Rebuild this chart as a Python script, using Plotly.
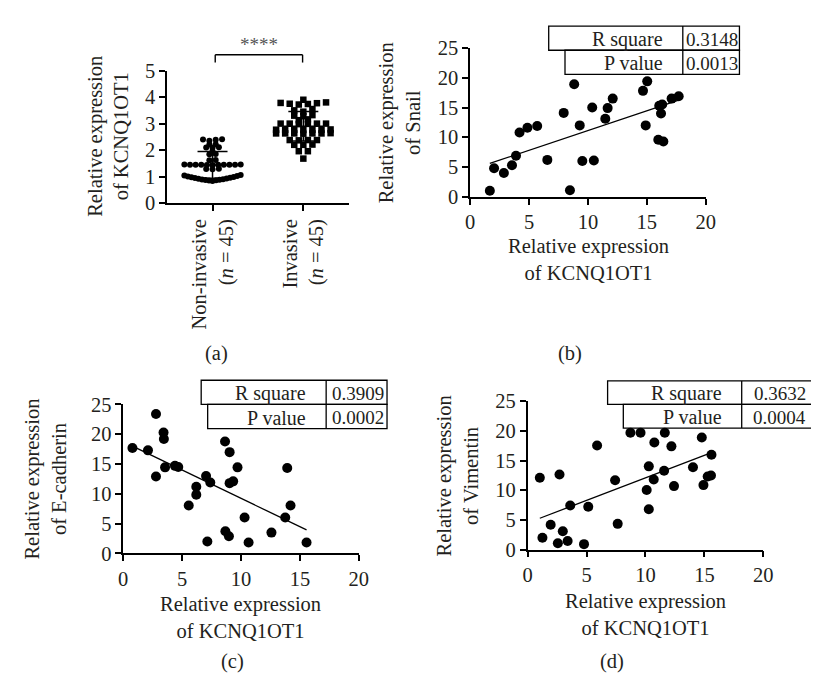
import numpy as np
import plotly.graph_objects as go

W, H = 819, 682
FONT = "Liberation Serif"
TXT = "#231f20"
FS = 20.5
TFS = 19

# ---------------- data ----------------
# Panel (a)
group_labels = ["Non-invasive<br>(<i>n</i> = 45)", "Invasive<br>(<i>n</i> = 45)"]
non_invasive = [2.41, 2.40, 2.39, 2.35, 2.21, 2.22, 2.10, 2.09, 2.11, 1.96, 1.84, 1.85,
                1.62, 1.63, 1.45, 1.45, 1.44, 1.46, 1.45, 1.45, 1.44, 1.46, 1.45, 1.45,
                1.45, 1.29, 1.30, 1.28, 0.84, 0.85, 0.86, 0.87, 0.88, 0.89, 0.90, 0.92,
                0.93, 0.95, 0.96, 0.98, 0.99, 1.01, 1.02, 1.04, 1.06]
invasive = [3.90, 3.80, 3.78, 3.77, 3.75, 3.74, 3.72, 3.55, 3.50, 3.45, 3.32, 3.30, 3.28,
            3.16, 3.13, 3.00, 3.00, 2.99, 3.00, 2.98, 3.00, 2.77, 2.77, 2.76, 2.77, 2.78,
            2.77, 2.77, 2.63, 2.63, 2.62, 2.63, 2.64, 2.63, 2.63, 2.38, 2.38, 2.37, 2.38,
            2.20, 2.20, 2.21, 1.96, 1.96, 1.68]

# Panel (b): Snail vs KCNQ1OT1
b_x = [1.67, 2.03, 2.86, 3.55, 3.89, 4.19, 4.86, 5.69, 6.55, 7.94, 8.47, 8.83, 9.30, 9.52,
       10.36, 10.50, 11.47, 11.67, 12.10, 14.67, 15.03, 14.90, 16.05, 16.30, 16.20, 15.97,
       16.40, 17.10, 17.70]
b_y = [1.0, 4.8, 4.0, 5.3, 6.9, 10.8, 11.6, 11.9, 6.2, 14.1, 1.1, 18.9, 12.0, 6.0,
       15.0, 6.1, 13.1, 14.9, 16.5, 17.8, 19.4, 12.0, 15.3, 15.5, 14.0, 9.6,
       9.3, 16.5, 16.9]

# Panel (c): E-cadherin vs KCNQ1OT1
c_x = [0.78, 2.10, 2.78, 2.78, 3.42, 3.45, 3.55, 4.39, 4.67, 5.56, 6.20, 6.20, 7.03, 7.14,
       7.39, 8.64, 8.67, 8.97, 9.03, 9.03, 9.33, 9.70, 10.30, 10.64, 12.58, 13.75, 13.92,
       14.20, 15.56]
c_y = [17.7, 17.3, 23.4, 12.9, 20.3, 19.2, 14.45, 14.7, 14.5, 8.05, 11.2, 9.85, 13.0, 2.0,
       11.9, 18.8, 3.73, 2.9, 17.0, 11.8, 12.1, 14.45, 6.05, 1.83, 3.5, 6.05, 14.33,
       8.05, 1.83]

# Panel (d): Vimentin vs KCNQ1OT1
d_x = [1.03, 1.25, 1.95, 2.56, 2.70, 2.98, 3.39, 3.61, 4.78, 5.14, 5.89, 7.42, 7.64, 8.72,
       9.58, 10.10, 10.28, 10.28, 10.70, 10.75, 11.58, 11.64, 12.20, 12.42, 14.03, 14.78,
       14.92, 15.28, 15.56, 15.60]
d_y = [12.1, 2.0, 4.2, 1.08, 12.66, 3.1, 1.46, 7.44, 0.92, 7.23, 17.55, 11.68, 4.34, 19.68,
       19.68, 10.05, 14.03, 6.79, 11.8, 18.04, 13.3, 19.68, 17.4, 10.7, 13.87, 18.9,
       10.87, 12.33, 12.5, 16.0]

stat_labels = ["R square", "P value"]
b_stats = ["0.3148", "0.0013"]
c_stats = ["0.3909", "0.0002"]
d_stats = ["0.3632", "0.0004"]
y_titles = ["Relative expression<br>of KCNQ1OT1", "Relative expression<br>of Snail",
            "Relative expression<br>of E-cadherin", "Relative expression<br>of Vimentin"]
x_title = "Relative expression<br>of KCNQ1OT1"
panel_labels = ["(a)", "(b)", "(c)", "(d)"]
signif = "****"

# ---------------- helpers ----------------
def PX(x):
    return x / W

def PY(y):
    return 1 - y / H

def swarm(vals, step_max, span, gap=0.07):
    v = np.asarray(vals, dtype=float)
    order = np.argsort(v, kind="stable")
    sv = v[order]
    bands, cur = [], [0]
    for i in range(1, len(sv)):
        if sv[i] - sv[i - 1] > gap:
            bands.append(cur)
            cur = [i]
        else:
            cur.append(i)
    bands.append(cur)
    offs = np.zeros(len(sv))
    for b in bands:
        n = len(b)
        step = step_max if n < 2 else min(step_max, span / (n - 1))
        pos = sorted([(k - (n - 1) / 2) * step for k in range(n)], key=lambda p: (abs(p), p))
        for idx, p in zip(b, pos):
            offs[idx] = p
    out = np.zeros(len(sv))
    out[order] = offs
    return out

fig = go.Figure()

# axis pixel geometry: (x_left, x_right, y_bottom, y_top)
geo = {
    "a": (157, 342, 190.3, 53.3),
    "b": (465.7, 705.7, 183.7, 30.0),
    "c": (112.3, 352.3, 552.3, 398.3),
    "d": (524.3, 764.3, 548.3, 395.0),
}
axis_ids = {"a": ("x", "y"), "b": ("x2", "y2"), "c": ("x3", "y3"), "d": ("x4", "y4")}

common = dict(showline=True, linecolor="black", linewidth=1.5, ticks="outside",
              ticklen=6, tickwidth=1.5, tickcolor="black", showgrid=False, zeroline=False,
              tickfont=dict(family=FONT, size=FS, color=TXT), fixedrange=True)

layout_axes = {}
for k, (xl, xr, yb, yt) in geo.items():
    xa, ya = axis_ids[k]
    xname = "xaxis" + xa[1:]
    yname = "yaxis" + ya[1:]
    layout_axes[xname] = dict(domain=[PX(xl), PX(xr)], anchor=ya, **common)
    layout_axes[yname] = dict(domain=[PY(yb), PY(yt)], anchor=xa, **common)

layout_axes["xaxis"].update(range=[-0.5, 1.5], tickvals=[0, 1], ticktext=group_labels,
                            tickangle=-90)
layout_axes["yaxis"].update(range=[0, 5], dtick=1, tick0=0)
for k in ["b", "c", "d"]:
    xa, ya = axis_ids[k]
    layout_axes["xaxis" + xa[1:]].update(range=[0, 20], dtick=5, tick0=0)
    layout_axes["yaxis" + ya[1:]].update(range=[0, 25], dtick=5, tick0=0)

# ---------------- panel (a) ----------------
off_n = swarm(non_invasive, 0.07, 0.62)
off_i = swarm(invasive, 0.1, 0.64)
fig.add_trace(go.Scatter(x=0 + off_n, y=non_invasive, mode="markers",
                         marker=dict(symbol="circle", size=6, color="black"),
                         xaxis="x", yaxis="y", cliponaxis=False, showlegend=False))
fig.add_trace(go.Scatter(x=1 + off_i, y=invasive, mode="markers",
                         marker=dict(symbol="square", size=6.5, color="black"),
                         xaxis="x", yaxis="y", cliponaxis=False, showlegend=False))
for gi, vals in enumerate([non_invasive, invasive]):
    m = float(np.mean(vals))
    s = float(np.std(vals, ddof=1))
    fig.add_trace(go.Scatter(x=[gi - 0.22, gi + 0.22], y=[m, m], mode="lines",
                             line=dict(color="black", width=1.5), xaxis="x", yaxis="y",
                             showlegend=False))
    fig.add_trace(go.Scatter(x=[gi], y=[m], mode="markers", marker=dict(size=1, color="black"),
                             error_y=dict(type="data", array=[s], symmetric=True,
                                          color="black", thickness=1.5, width=15),
                             xaxis="x", yaxis="y", showlegend=False))

# ---------------- scatter panels ----------------
for k, xs, ys in [("b", b_x, b_y), ("c", c_x, c_y), ("d", d_x, d_y)]:
    xa, ya = axis_ids[k]
    fig.add_trace(go.Scatter(x=xs, y=ys, mode="markers",
                             marker=dict(symbol="circle", size=10, color="black"),
                             xaxis=xa, yaxis=ya, cliponaxis=False, showlegend=False))
    slope, icpt = np.polyfit(xs, ys, 1)
    lx = np.array([min(xs), max(xs)])
    fig.add_trace(go.Scatter(x=lx, y=slope * lx + icpt, mode="lines",
                             line=dict(color="black", width=1.3),
                             xaxis=xa, yaxis=ya, showlegend=False))

shapes = []
annotations = []

def line_shape(x0, y0, x1, y1, w=1.4):
    shapes.append(dict(type="line", xref="paper", yref="paper", x0=PX(x0), y0=PY(y0),
                       x1=PX(x1), y1=PY(y1), line=dict(color="black", width=w)))

def text(x, y, s, size=FS, angle=0, xanchor="center", color=TXT):
    annotations.append(dict(xref="paper", yref="paper", x=PX(x), y=PY(y), text=s,
                            showarrow=False, textangle=angle, xanchor=xanchor,
                            yanchor="middle", font=dict(family=FONT, size=size, color=color)))

# significance bracket
line_shape(206, 37, 295, 37)
line_shape(206, 37, 206, 45)
line_shape(295, 37, 295, 45)
text(250.5, 26, signif, size=19, color="#555555")

# stat tables
def table(xl1, xl2, xdiv, xr, yt, ym, yb, vals):
    for (x0, y0, x1, y1) in [(xl1, yt, xr, ym), (xl2, ym, xr, yb)]:
        shapes.append(dict(type="rect", xref="paper", yref="paper", x0=PX(x0), y0=PY(y1),
                           x1=PX(x1), y1=PY(y0), line=dict(color="black", width=1.3)))
    line_shape(xdiv, yt, xdiv, yb, 1.3)
    for lab, val, (y0, y1) in zip(stat_labels, vals, [(yt, ym), (ym, yb)]):
        text(xdiv - 18, (y0 + y1) / 2 + 1, lab, size=TFS + 1, xanchor="right")
        text((xdiv + xr) / 2 + 1, (y0 + y1) / 2 + 1, val, size=TFS)

table(545.7, 562.3, 682.3, 740, 7.3, 32.3, 57.3, b_stats)
table(191.7, 198.3, 319.0, 381, 373.3, 398.3, 423.3, c_stats)
table(605.7, 621.7, 742.3, 818, 374.0, 398.3, 422.7, d_stats)

# axis titles
text(96.5, 121, y_titles[0], angle=-90)
text(394, 107, y_titles[1], angle=-90)
text(33.5, 475, y_titles[2], angle=-90)
text(453, 472, y_titles[3], angle=-90)
text(586, 249, x_title)
text(232, 618, x_title)
text(644, 615, x_title)

# panel labels
text(207, 346, panel_labels[0])
text(567, 346, panel_labels[1])
text(224, 664, panel_labels[2])
text(610, 664, panel_labels[3])

fig.update_layout(width=W, height=H, margin=dict(l=0, r=0, t=0, b=0),
                  paper_bgcolor="white", plot_bgcolor="white", showlegend=False,
                  font=dict(family=FONT, size=FS, color=TXT),
                  shapes=shapes, annotations=annotations, **layout_axes)

fig.write_html("out.html")
